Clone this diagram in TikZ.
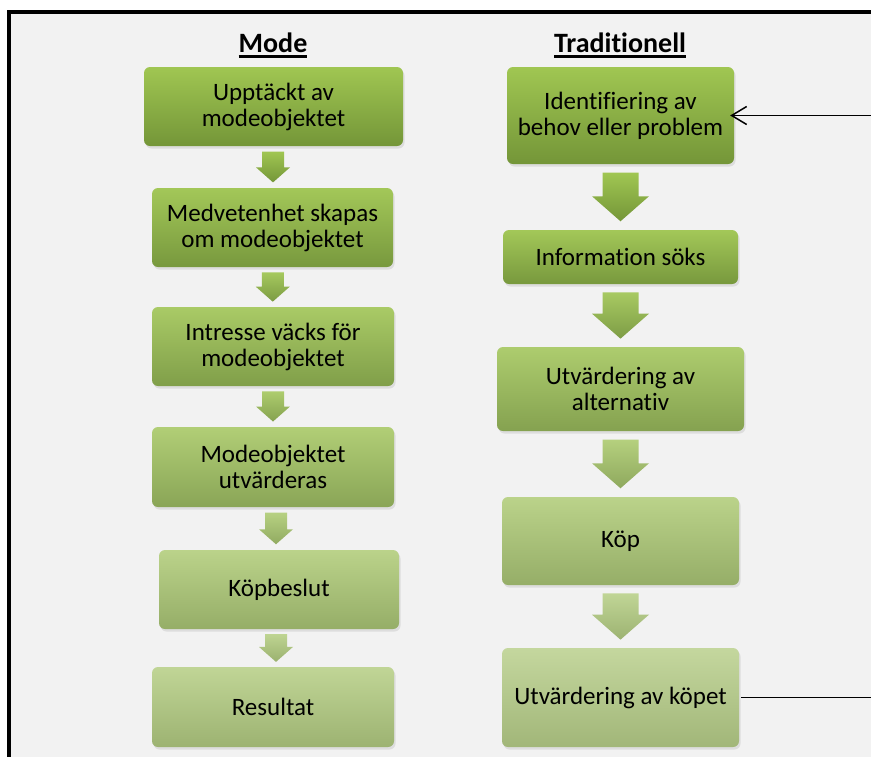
\documentclass[tikz,border=0pt]{standalone}
\usepackage{fontspec}
\setmainfont{Carlito}[Ligatures=NoCommon]
\usepackage{xcolor}
\usepackage{tikz}
\usetikzlibrary{arrows.meta,calc,shadows}

\definecolor{greentop}{RGB}{160,198,82}
\definecolor{greenbot}{RGB}{116,150,56}
\definecolor{paletop}{RGB}{198,216,162}
\definecolor{palebot}{RGB}{164,184,124}
\definecolor{canvas}{RGB}{242,242,242}

% underlined column heading
\newcommand{\colhead}[1]{\sbox0{#1}\rlap{\usebox0}\rule[-5pt]{\wd0}{3pt}}

% block arrow between two stacked stages: from, to, tint, head half width, shaft half width, head length
\newcommand{\flowarrow}[6]{%
  \path[flowfill=#3] let \p1=($(#1.south)!0.13!(#2.north)$), \p2=($(#1.south)!0.87!(#2.north)$),
      \p3=($(#1.south)!0.5!(#2.north)$) in
    (\x3-#5,\y1) -- (\x3+#5,\y1) -- (\x3+#5,\y2+#6) -- (\x3+#4,\y2+#6) -- (\x3,\y2)
    -- (\x3-#4,\y2+#6) -- (\x3-#5,\y2+#6) -- cycle;
}

\begin{document}
\begin{tikzpicture}[
  x=1pt,
  y=-1pt,
  stage/.style={rounded corners=6pt, top color=greentop!#1!paletop, bottom color=greenbot!#1!palebot,
    align=center, inner sep=0pt, font=\fontsize{25}{26}\selectfont,
    drop shadow={shadow xshift=1.5pt, shadow yshift=-2.5pt, opacity=0.18}},
  flowfill/.style={top color=greentop!#1!paletop, bottom color=greenbot!#1!palebot},
  heading/.style={anchor=base, inner sep=0pt, font=\fontsize{28}{32}\selectfont\bfseries},
  feedback/.style={line width=1.5pt, color=black}
]
  \useasboundingbox (0,0) rectangle (871,756);
  \fill[white] (-5,-5) rectangle (880,765);
  \fill[canvas] (9,12) rectangle (880,765);
  \draw[line width=4pt] (9,765) -- (9,12) -- (880,12);

  \node[heading] (modehead) at (273,52.5) {\colhead{Mode}};
  \node[heading] (tradhead) at (620,52.5) {\colhead{Traditionell}};

  \node[stage=100, minimum width=259pt, minimum height=79pt] (discover) at (273.5,106.5) {Upptäckt av\\modeobjektet};
  \node[stage=92, minimum width=241pt, minimum height=79pt] (aware) at (272.5,227.5) {Medvetenhet  skapas\\om modeobjektet};
  \node[stage=75, minimum width=242pt, minimum height=79pt] (interest) at (273,346.5) {Intresse väcks för\\modeobjektet};
  \node[stage=55, minimum width=242pt, minimum height=80pt] (assess) at (273,467) {Modeobjektet\\utvärderas};
  \node[stage=30, minimum width=240pt, minimum height=79pt] (decide) at (279,589.5) {Köpbeslut};
  \node[stage=15, minimum width=242pt, minimum height=80pt] (result) at (273,707) {Resultat};

  \node[stage=100, minimum width=227pt, minimum height=97pt] (need) at (620.5,115.5) {Identifiering av\\behov eller problem};
  \node[stage=92, minimum width=235pt, minimum height=54pt] (search) at (620.5,257) {Information söks};
  \node[stage=65, minimum width=247pt, minimum height=84pt] (options) at (620.5,389) {Utvärdering av\\alternativ};
  \node[stage=30, minimum width=237pt, minimum height=88pt] (purchase) at (620.5,541) {Köp};
  \node[stage=5, minimum width=237pt, minimum height=99pt] (review) at (620.5,697.5) {Utvärdering av köpet};

  \flowarrow{discover}{aware}{100}{17pt}{11pt}{15pt}
  \flowarrow{aware}{interest}{85}{17pt}{11pt}{15pt}
  \flowarrow{interest}{assess}{65}{17pt}{11pt}{15pt}
  \flowarrow{assess}{decide}{40}{17pt}{11pt}{15pt}
  \flowarrow{decide}{result}{20}{17pt}{11pt}{15pt}

  \flowarrow{need}{search}{100}{28.5pt}{18pt}{25pt}
  \flowarrow{search}{options}{80}{28.5pt}{18pt}{25pt}
  \flowarrow{options}{purchase}{45}{28.5pt}{18pt}{25pt}
  \flowarrow{purchase}{review}{15}{28.5pt}{18pt}{25pt}

  \coordinate (rim) at (871,0);
  \draw[feedback, shorten <=2pt] (review.east) -- (review.east -| rim);
  \draw[feedback, -{Straight Barb[length=15pt, width=18pt, line width=1.5pt]}, shorten >=-4pt]
    (need.east -| rim) -- (need.east);
\end{tikzpicture}
\end{document}
